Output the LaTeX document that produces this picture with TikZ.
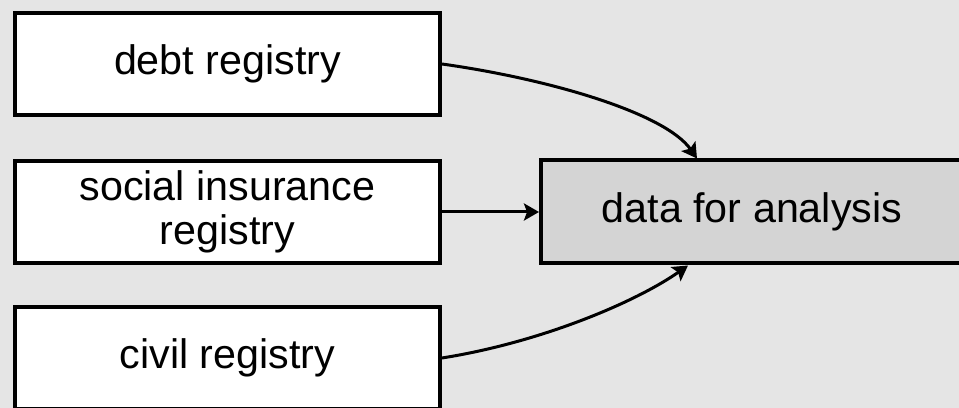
\documentclass[tikz,border=0pt]{standalone}
\usepackage{fontspec}
\setmainfont{Liberation Sans}
\usepackage{xcolor}
\usetikzlibrary{arrows.meta, positioning}

\definecolor{bggray}{HTML}{E5E5E5}
\definecolor{datagray}{HTML}{D4D4D4}

\begin{document}
\begin{tikzpicture}[
        node distance=21bp and 48.5bp,
        box/.style={rectangle, draw, line width=2bp, fill=white, minimum height=51bp, minimum width=212.5bp, align=center, inner sep=0pt, font=\fontsize{20.7}{22}\selectfont},
        target/.style={box, fill=datagray, minimum width=211bp, minimum height=51.5bp},
        arrow/.style={-{Stealth[length=7.5bp, width=8.5bp, inset=1.5bp]}, line width=1.5bp}
    ]
        % Background
        \fill[bggray] (0,0) rectangle (479.5bp,204bp);
        \useasboundingbox (0,0) rectangle (479.5bp,204bp);

        % Nodes
        \node[box] (debt) at (113.75bp,172bp) {debt registry};
        \node[box, below=of debt] (social) {social insurance\\registry};
        \node[box, below=20bp of social] (civil) {civil registry};
        \node[target, right=of social] (data) {data for analysis};

        % Arrows
        \draw[arrow] (debt.east) to[out=-8, in=125, out distance=55bp, in distance=27.5bp] ([xshift=-27.5bp]data.north);
        \draw[arrow] (social) -- (data);
        \draw[arrow] (civil.east) to[out=9, in=-145, out distance=50bp, in distance=32bp] ([xshift=-32bp]data.south);
    \end{tikzpicture}
\end{document}
